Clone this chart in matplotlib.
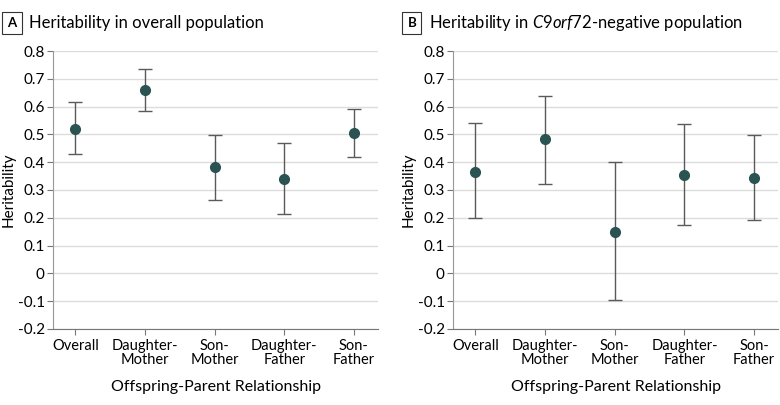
import matplotlib.pyplot as plt

plt.rcParams['font.family'] = ['Lato', 'DejaVu Sans']
plt.rcParams['mathtext.fontset'] = 'custom'
plt.rcParams['mathtext.it'] = 'Lato:italic'
plt.rcParams['mathtext.rm'] = 'Lato'

# Categorias e valores
categorias = ["Overall", "Daughter-\nMother", "Son-\nMother", "Daughter-\nFather", "Son-\nFather"]

# Painel A - populacao geral
a_valor = [0.52, 0.66, 0.382, 0.341, 0.505]
a_sup = [0.615, 0.737, 0.499, 0.470, 0.591]
a_inf = [0.430, 0.585, 0.265, 0.213, 0.418]

# Painel B - populacao C9orf72-negativa
b_valor = [0.366, 0.484, 0.149, 0.354, 0.344]
b_sup = [0.540, 0.639, 0.399, 0.537, 0.496]
b_inf = [0.198, 0.322, -0.096, 0.175, 0.192]

yticks = [-0.2, -0.1, 0, 0.1, 0.2, 0.3, 0.4, 0.5, 0.6, 0.7, 0.8]
ytick_labels = ["-0.2", "-0.1", "0", "0.1", "0.2", "0.3", "0.4", "0.5", "0.6", "0.7", "0.8"]

cor_ponto = "#2a5352"
cor_barra = "#5a5a5a"

fig = plt.figure(figsize=(7.8, 4.05), dpi=100)
ax_a = fig.add_axes([0.068, 0.188, 0.417, 0.686])
ax_b = fig.add_axes([0.581, 0.188, 0.417, 0.686])


def desenha(ax, valor, sup, inf):
    x = list(range(len(categorias)))
    erro = [[v - i for v, i in zip(valor, inf)], [s - v for v, s in zip(valor, sup)]]
    ax.errorbar(x, valor, yerr=erro, fmt="none", ecolor=cor_barra, elinewidth=1,
                capsize=5, capthick=1, zorder=3)
    ax.plot(x, valor, "o", color=cor_ponto, markersize=7, zorder=4)
    ax.set_xlim(-0.32, 4.35)
    ax.set_ylim(-0.2, 0.8)
    ax.set_yticks(yticks)
    ax.set_yticklabels(ytick_labels)
    ax.set_xticks(x)
    ax.set_xticklabels(categorias, fontsize=10.5, linespacing=1.0)
    ax.grid(axis="y", color="#dcdcdc", linewidth=1)
    ax.set_axisbelow(True)
    for lado in ["top", "right"]:
        ax.spines[lado].set_visible(False)
    ax.spines["left"].set_color("#999999")
    ax.spines["bottom"].set_color("#777777")
    ax.tick_params(axis="y", labelsize=11, length=4, color="#777777", pad=2)
    ax.tick_params(axis="x", length=4, color="#777777", pad=3)
    ax.set_ylabel("Heritability", fontsize=11)
    ax.yaxis.set_label_coords(-0.115, 0.5)
    ax.set_xlabel("Offspring-Parent Relationship", fontsize=11.5, labelpad=10)


desenha(ax_a, a_valor, a_sup, a_inf)
desenha(ax_b, b_valor, b_sup, b_inf)

# Titulos com letra em caixa
caixa = dict(boxstyle="square,pad=0.4", facecolor="white", edgecolor="#333333", linewidth=0.8)
fig.text(0.0154, 0.943, "A", fontsize=9.5, fontweight="bold", ha="center", va="center", bbox=caixa)
fig.text(0.037, 0.943, "Heritability in overall population", fontsize=12, va="center")
fig.text(0.528, 0.943, "B", fontsize=9.5, fontweight="bold", ha="center", va="center", bbox=caixa)
fig.text(0.550, 0.943, r"Heritability in $\it{C9orf72}$-negative population", fontsize=12, va="center")

fig.savefig("out.png", dpi=100)
